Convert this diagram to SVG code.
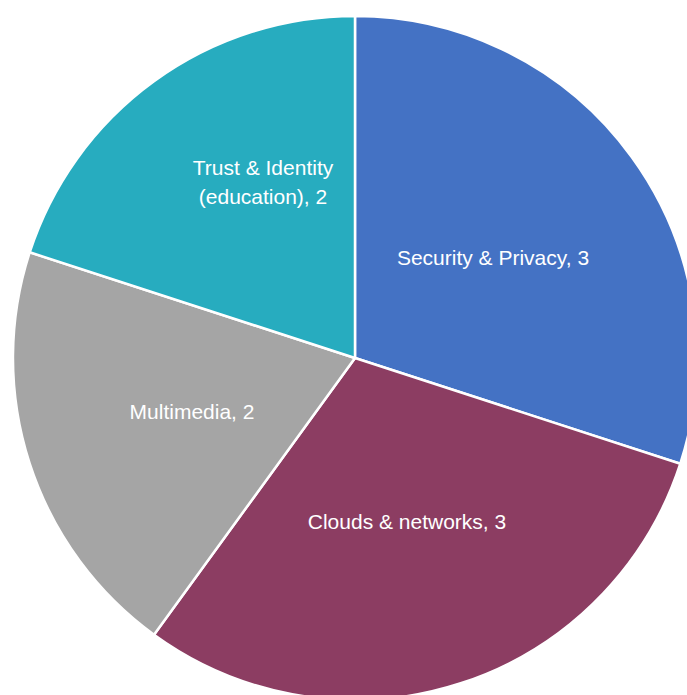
<svg xmlns="http://www.w3.org/2000/svg" width="687" height="695" viewBox="0 0 687 695">
<style>
.s{stroke:#fff;stroke-width:2.5;stroke-linejoin:round}
.t{font-family:"Liberation Sans",Arial,sans-serif;font-size:21px;fill:#fff;text-anchor:middle}
</style>
<rect width="687" height="695" fill="#fff"/>
<g id="security"><path class="s" fill="#4472C4" d="M355,358 L355,16 A342,342 0 0 1 680.3,463.7 Z"/><text class="t" x="493" y="265">Security &amp; Privacy, 3</text></g>
<g id="clouds"><path class="s" fill="#8C3D62" d="M355,358 L680.3,463.7 A342,342 0 0 1 154,634.7 Z"/><text class="t" x="407" y="529">Clouds &amp; networks, 3</text></g>
<g id="multimedia"><path class="s" fill="#A5A5A5" d="M355,358 L154,634.7 A342,342 0 0 1 29.7,252.3 Z"/><text class="t" x="192" y="419">Multimedia, 2</text></g>
<g id="trust"><path class="s" fill="#27ACBF" d="M355,358 L29.7,252.3 A342,342 0 0 1 355,16 Z"/><text class="t" x="263" y="175">Trust &amp; Identity</text><text class="t" x="263" y="204">(education), 2</text></g>
<g id="connectors"/>
</svg>
